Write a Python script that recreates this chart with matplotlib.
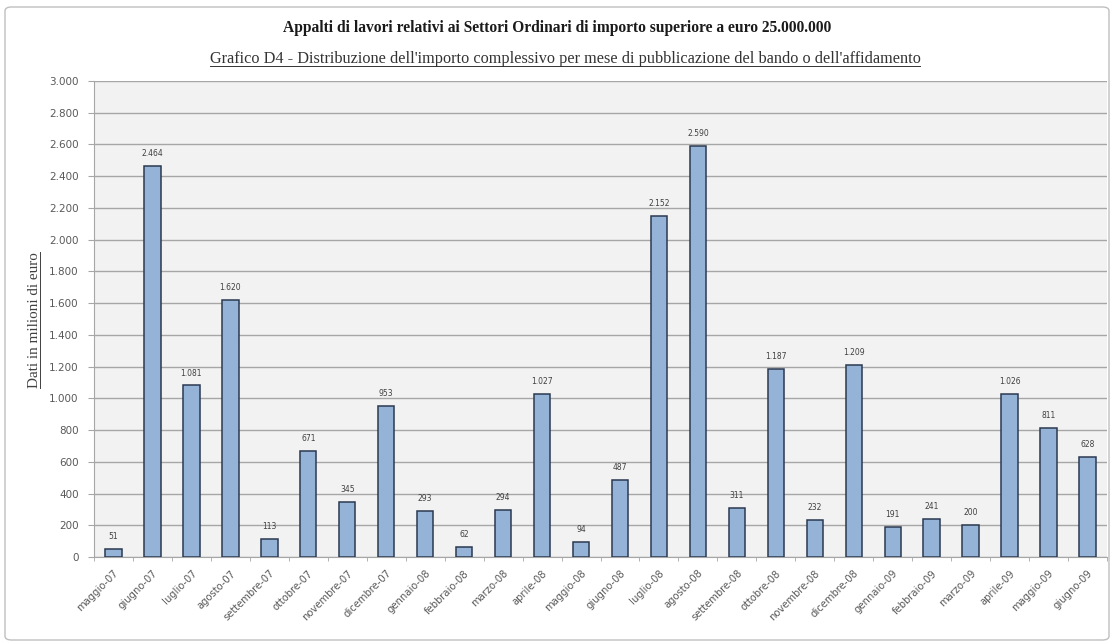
# Appalti di lavori - Grafico D4
import matplotlib
matplotlib.use('Agg')
import matplotlib.pyplot as plt
from matplotlib.patches import FancyBboxPatch
from matplotlib.lines import Line2D
from matplotlib.ticker import FuncFormatter, MultipleLocator
import numpy as np

# dati
mesi = ['maggio-07', 'giugno-07', 'luglio-07', 'agosto-07', 'settembre-07',
        'ottobre-07', 'novembre-07', 'dicembre-07', 'gennaio-08', 'febbraio-08',
        'marzo-08', 'aprile-08', 'maggio-08', 'giugno-08', 'luglio-08',
        'agosto-08', 'settembre-08', 'ottobre-08', 'novembre-08', 'dicembre-08',
        'gennaio-09', 'febbraio-09', 'marzo-09', 'aprile-09', 'maggio-09',
        'giugno-09']
importi = [51, 2464, 1081, 1620, 113, 671, 345, 953, 293, 62,
           294, 1027, 94, 487, 2152, 2590, 311, 1187, 232, 1209,
           191, 241, 200, 1026, 811, 628]

titolo = 'Appalti di lavori relativi ai Settori Ordinari di importo superiore a euro 25.000.000'
sottotitolo = "Grafico D4 - Distribuzione dell'importo complessivo per mese di pubblicazione del bando o dell'affidamento"
etichetta_y = 'Dati in milioni di euro'


def punti(v):
    return '{:,.0f}'.format(v).replace(',', '.')


fig = plt.figure(figsize=(11.13, 6.44), dpi=100, facecolor='white')

# cornice esterna
cornice = FancyBboxPatch((5 / 1113, 4 / 644), 1104 / 1113, 633 / 644,
                         boxstyle='round,pad=0,rounding_size=0.006',
                         transform=fig.transFigure, facecolor='none',
                         edgecolor='#bfbfbf', linewidth=1.0, zorder=0)
fig.patches.append(cornice)

ax = fig.add_axes([94 / 1113, 1 - 557 / 644, 1013 / 1113, 476 / 644])
ax.set_facecolor('#f2f2f2')

x = np.arange(len(mesi))
barre = ax.bar(x, importi, width=0.42, color='#95b3d7', edgecolor='#2a3950',
               linewidth=1.1, zorder=3)

for xi, v in zip(x, importi):
    ax.text(xi, v + 50, punti(v), ha='center', va='bottom', fontsize=5.5,
            color='#404040', family='DejaVu Sans', zorder=4)

ax.set_xlim(-0.5, len(mesi) - 0.5)
ax.set_ylim(0, 3000)
ax.yaxis.set_major_locator(MultipleLocator(200))
ax.yaxis.set_major_formatter(FuncFormatter(lambda v, p: punti(v)))
ax.grid(axis='y', color='#a6a6a6', linewidth=1.0, zorder=1)

ax.set_xticks(x)
ax.set_xticklabels(mesi, rotation=45, ha='right', rotation_mode='anchor',
                   fontsize=7.2, color='#595959', family='DejaVu Sans')
ax.set_xticks(np.arange(-0.5, len(mesi)), minor=True)
ax.tick_params(axis='x', which='major', length=0, pad=8)
ax.tick_params(axis='x', which='minor', length=3, color='#a6a6a6', direction='out')
ax.tick_params(axis='y', length=4, color='#a6a6a6', labelsize=7.5,
               labelcolor='#595959', pad=7)
for lab in ax.get_yticklabels():
    lab.set_family('DejaVu Sans')

for s in ['top', 'right']:
    ax.spines[s].set_visible(False)
ax.spines['left'].set_color('#a6a6a6')
ax.spines['bottom'].set_color('#a6a6a6')

# titoli
fig.text(557 / 1113, 1 - 28 / 644, titolo, ha='center', va='center', fontsize=11.2,
         fontweight='bold', family='Liberation Serif', color='#1a1a1a')
t2 = fig.text(565 / 1113, 1 - 59 / 644, sottotitolo, ha='center', va='center',
              fontsize=11.7, family='Liberation Serif', color='#333333')
t3 = fig.text(35 / 1113, 1 - 320 / 644, etichetta_y, ha='center', va='center',
              rotation=90, fontsize=10.9, family='Liberation Serif',
              color='#404040')

# sottolineature
fig.canvas.draw()
r = fig.canvas.get_renderer()
bb = t2.get_window_extent(r).transformed(fig.transFigure.inverted())
fig.add_artist(Line2D([bb.x0, bb.x1], [bb.y0 + 0.002, bb.y0 + 0.002],
                      transform=fig.transFigure, color='#333333', lw=0.7))
bb = t3.get_window_extent(r).transformed(fig.transFigure.inverted())
fig.add_artist(Line2D([bb.x1 - 0.001, bb.x1 - 0.001], [bb.y0, bb.y1],
                      transform=fig.transFigure, color='#404040', lw=0.7))

fig.savefig('out.png', dpi=100, facecolor='white')
